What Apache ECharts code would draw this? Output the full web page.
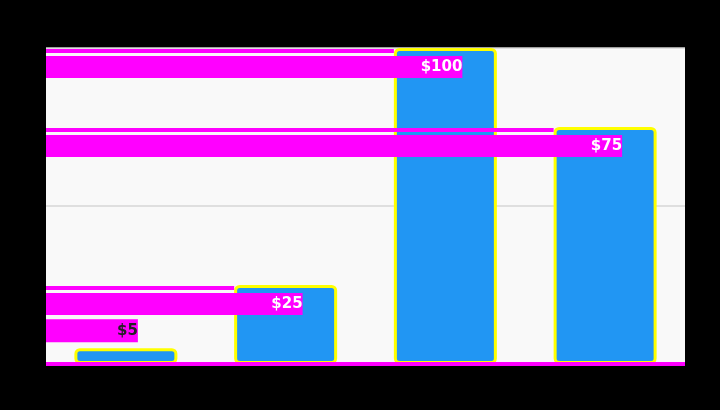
<!DOCTYPE html>
<html>
<head>
<meta charset="utf-8">
<script src="https://cdn.jsdelivr.net/npm/echarts@6/dist/echarts.min.js"></script>
<style>
html,body{margin:0;padding:0;background:#000;}
#chart{width:720px;height:410px;}
</style>
</head>
<body>
<div id="chart"></div>
<script>
// ---- data ----
const categories = ['Q1', 'Q2', 'Q3', 'Q4'];
const values = [5, 25, 100, 75];
const labelTexts = ['$5', '$25', '$100', '$75'];
const yTickValues = [0, 50, 100];

// ---- style / layout ----
const GRID = { left: 46, right: 35, top: 48, bottom: 46 };
const BAR_W = 103;
const MAGENTA = '#ff00ff';
const BLUE = '#2196F3';
const LABEL_OVERHANG = 17;

const chart = echarts.init(document.getElementById('chart'), null, { renderer: 'canvas' });

function baseOption(seriesData) {
  return {
    backgroundColor: '#000000',
    animation: false,
    grid: {
      left: GRID.left, right: GRID.right, top: GRID.top, bottom: GRID.bottom,
      show: true, backgroundColor: '#f9f9f9', borderWidth: 0
    },
    xAxis: {
      type: 'category',
      data: categories,
      z: 10,
      axisLine: { show: true, lineStyle: { color: MAGENTA, width: 4, cap: 'butt' } },
      axisTick: { show: false },
      axisLabel: { color: '#000000', fontSize: 12 }
    },
    yAxis: {
      type: 'value',
      min: yTickValues[0],
      max: yTickValues[yTickValues.length - 1],
      interval: yTickValues[1] - yTickValues[0],
      axisLine: { show: false },
      axisTick: { show: false },
      axisLabel: { color: '#000000', formatter: v => '$' + v },
      splitLine: { lineStyle: { color: '#d6d6d6', width: 1.5 } }
    },
    series: [{
      type: 'bar',
      barWidth: BAR_W,
      data: seriesData,
      itemStyle: {
        color: BLUE,
        borderColor: '#ffff00',
        borderWidth: 3,
        borderRadius: 4
      }
    }]
  };
}

chart.setOption(baseOption(values.slice()));

// build labels from the library's own pixel scale
const zeroY = chart.convertToPixel({ yAxisIndex: 0 }, 0);
const items = values.map((v, i) => {
  const cx = chart.convertToPixel({ xAxisIndex: 0 }, categories[i]);
  const topY = chart.convertToPixel({ yAxisIndex: 0 }, v);
  const barH = zeroY - topY;
  const text = labelTexts[i];
  if (barH < 40) {
    const over = 12;
    const W = cx + over - GRID.left;
    return {
      value: v,
      label: {
        show: true,
        position: [BAR_W / 2 + over, -29],
        align: 'right',
        verticalAlign: 'top',
        formatter: '{o|' + text + '}',
        rich: {
          o: {
            width: W, height: 23, backgroundColor: MAGENTA, color: '#222222',
            align: 'right', fontSize: 15, fontWeight: 'bold', textBorderWidth: 0,
            fontFamily: 'DejaVu Sans'
          }
        }
      }
    };
  }
  const W = cx + LABEL_OVERHANG - GRID.left;
  const Wt = cx - BAR_W / 2 - GRID.left;
  return {
    value: v,
    label: {
      show: true,
      position: [BAR_W / 2 + LABEL_OVERHANG, 1],
      align: 'right',
      verticalAlign: 'top',
      formatter: '{t| }\n{g| }\n{m|' + text + '}',
      rich: {
        t: { width: Wt, height: 4, lineHeight: 4, fontSize: 4, backgroundColor: MAGENTA, align: 'left', textBorderWidth: 0 },
        g: { width: 1, height: 3, lineHeight: 3, fontSize: 3, align: 'left', textBorderWidth: 0 },
        m: {
          width: W, height: 22, lineHeight: 22, backgroundColor: MAGENTA, color: '#ffffff',
          align: 'right', fontSize: 15, fontWeight: 'bold', textBorderWidth: 0,
          fontFamily: 'DejaVu Sans'
        }
      }
    }
  };
});

chart.setOption({ series: [{ data: items }] });
</script>
</body>
</html>
